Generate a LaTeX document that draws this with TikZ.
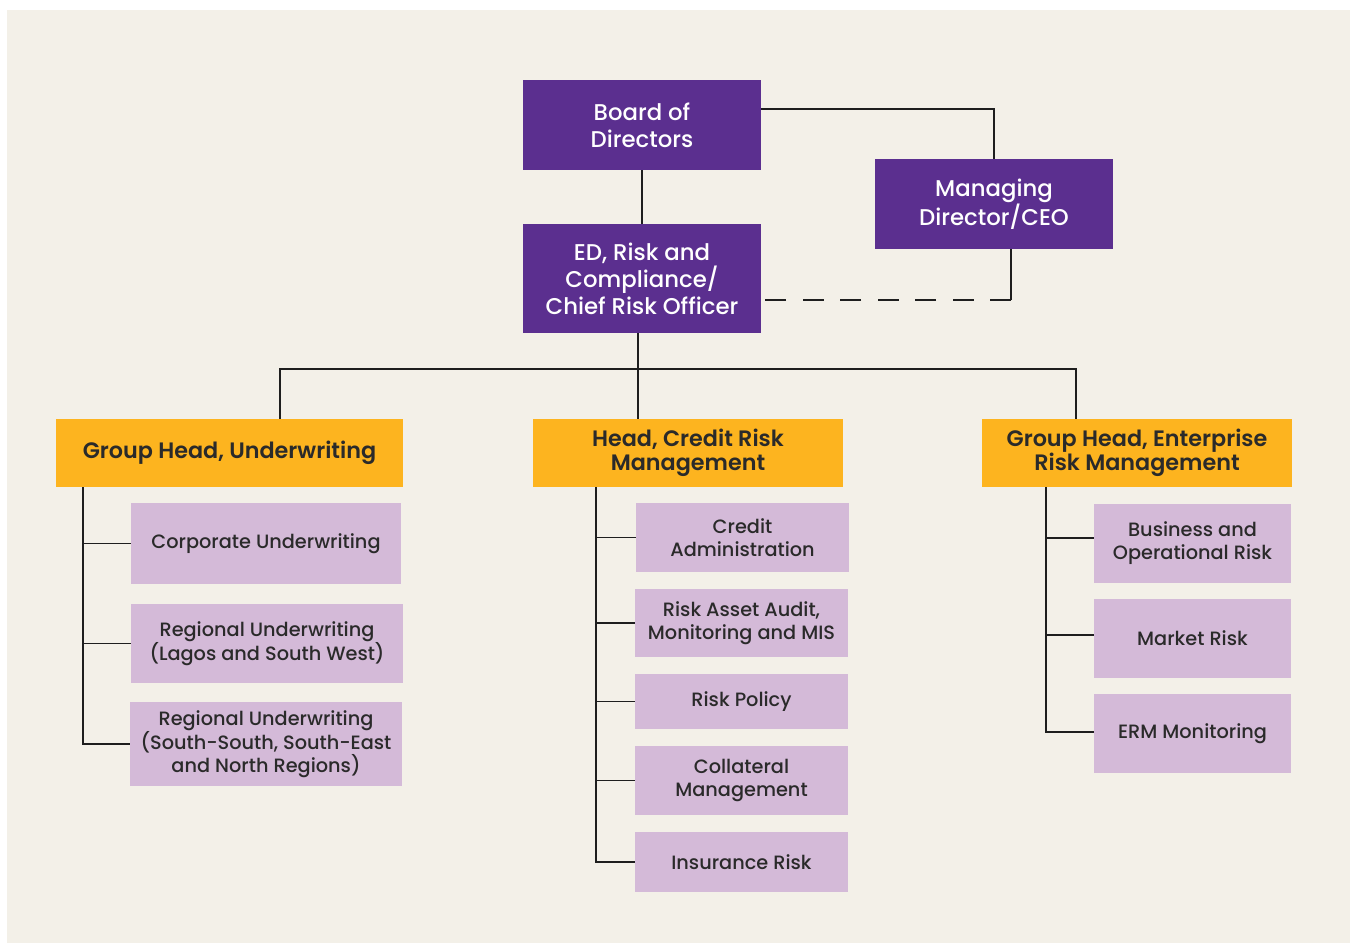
\documentclass[tikz,border=0pt]{standalone}
\usepackage{fontspec}
\setmainfont{Poppins}
\newfontfamily\pmed{Poppins Medium}
\newfontfamily\psemi{Poppins SemiBold}
\usetikzlibrary{calc}
\definecolor{bgc}{HTML}{F3F0E8}
\definecolor{purp}{HTML}{5B2F8F}
\definecolor{goldc}{HTML}{FDB41F}
\definecolor{lilac}{HTML}{D4BAD8}
\definecolor{txt}{HTML}{2A2A2A}
\definecolor{linec}{HTML}{1E1E1E}
\begin{document}
\begin{tikzpicture}[x=1pt,y=-1pt,
  boxbase/.style={inner sep=0pt, align=center, anchor=center},
  pbox/.style={boxbase, fill=purp, text=white, font=\pmed\fontsize{22.8}{27}\selectfont, minimum width=238pt},
  gbox/.style={boxbase, fill=goldc, text=txt, font=\psemi\fontsize{22.3}{24}\selectfont, minimum height=68pt},
  lbox/.style={boxbase, fill=lilac, text=txt, font=\pmed\fontsize{19.3}{23}\selectfont},
  conn/.style={draw=linec, line width=1.7pt},
  dashconn/.style={conn, dash pattern=on 21pt off 16.5pt}
]
\useasboundingbox (0,0) rectangle (1350,943);
\fill[white] (0,0) rectangle (1350,943);
\fill[bgc] (7,10) rectangle (1350,943);

% top level
\node[pbox, minimum height=90pt] (board) at (642,125) {Board of\\Directors};
\node[pbox, minimum height=90pt] (md) at (994,204) {Managing\\Director/CEO};
\node[pbox, minimum height=109pt] (ed) at (642,278.5) {ED, Risk and\\Compliance/\\Chief Risk Officer};

% heads
\node[gbox, minimum width=347pt] (gu) at (229.5,453) {Group Head, Underwriting};
\node[gbox, minimum width=310pt] (gc) at (688,453) {Head, Credit Risk\\Management};
\node[gbox, minimum width=310pt] (ge) at (1137,453) {Group Head, Enterprise\\Risk Management};

% underwriting children
\node[lbox, minimum width=270pt, minimum height=81pt] (u1) at (266,543.5) {Corporate Underwriting};
\node[lbox, minimum width=272pt, minimum height=79pt] (u2) at (267,643.5) {Regional Underwriting\\(Lagos and South West)};
\node[lbox, minimum width=272pt, minimum height=84pt] (u3) at (266,744) {Regional Underwriting\\(South-South, South-East\\and North Regions)};

% credit children
\node[lbox, minimum width=213pt, minimum height=69pt] (c1) at (742.5,537.5) {Credit\\Administration};
\node[lbox, minimum width=213pt, minimum height=68pt] (c2) at (741.5,623) {Risk Asset Audit,\\Monitoring and MIS};
\node[lbox, minimum width=213pt, minimum height=55pt] (c3) at (741.5,701.5) {Risk Policy};
\node[lbox, minimum width=213pt, minimum height=69pt] (c4) at (741.5,780.5) {Collateral\\Management};
\node[lbox, minimum width=213pt, minimum height=60pt] (c5) at (741.5,862) {Insurance Risk};

% enterprise children
\node[lbox, minimum width=197pt, minimum height=79pt] (e1) at (1192.5,543.5) {Business and\\Operational Risk};
\node[lbox, minimum width=197pt, minimum height=79pt] (e2) at (1192.5,638.5) {Market Risk};
\node[lbox, minimum width=197pt, minimum height=79pt] (e3) at (1192.5,733.5) {ERM Monitoring};

% top connectors
\draw[conn] (board.south) -- (ed.north);
\draw[conn] ($(board.north east)+(0,29)$) -| (md.north);
\coordinate (dk) at (1011,300);
\draw[conn] (md.south -| dk) -- (dk);
\draw[dashconn] (dk) -- (dk -| ed.east);

% bus
\coordinate (bl) at (280,369);
\coordinate (bm) at (638,369);
\coordinate (br) at (1076,369);
\draw[conn] (ed.south -| bm) -- (bm |- gc.north);
\draw[conn] (bl |- gu.north) -- (bl) -- (br) -- (br |- ge.north);

% spines
\coordinate (su) at (83,0);
\coordinate (sc) at (596,0);
\coordinate (se) at (1046,0);
\draw[conn] (su |- gu.south) |- (u3.west);
\draw[conn] (su |- u1.west) -- (u1.west);
\draw[conn] (su |- u2.west) -- (u2.west);
\draw[conn] (sc |- gc.south) |- (c5.west);
\foreach \n in {c1,c2,c3,c4} \draw[conn] (sc |- \n.west) -- (\n.west);
\draw[conn] (se |- ge.south) |- ($(e3.west)+(0,-1.5)$);
\draw[conn] (se |- e1.west) ++(0,-5.5) -- ($(e1.west)+(0,-5.5)$);
\draw[conn] (se |- e2.west) ++(0,-3.5) -- ($(e2.west)+(0,-3.5)$);
\end{tikzpicture}
\end{document}
